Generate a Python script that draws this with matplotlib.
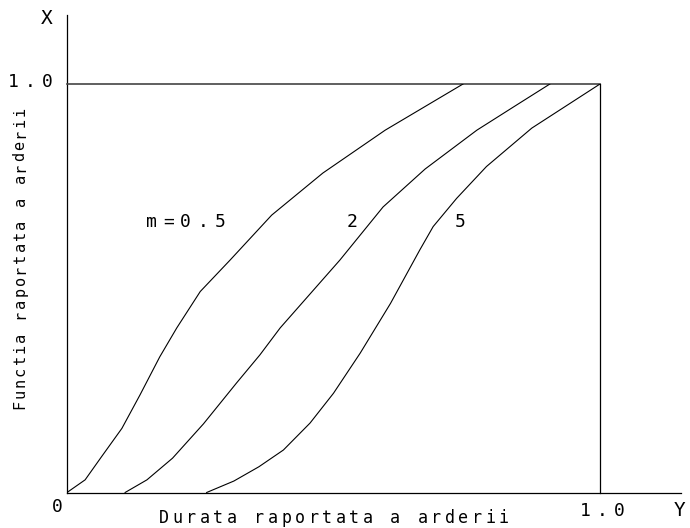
import matplotlib
matplotlib.use("Agg")
import matplotlib.pyplot as plt
import matplotlib.transforms as mtransforms

# curbe: durata raportata (x) -> functia raportata (y)
x_m05 = [0.0, 0.034, 0.065, 0.103, 0.137, 0.174, 0.206, 0.250, 0.306, 0.384, 0.480, 0.597, 0.743]
y_m05 = [0.0, 0.031, 0.088, 0.157, 0.239, 0.332, 0.403, 0.492, 0.569, 0.679, 0.782, 0.887, 1.0]

x_m2 = [0.109, 0.150, 0.198, 0.256, 0.318, 0.362, 0.400, 0.512, 0.593, 0.672, 0.769, 0.844, 0.906]
y_m2 = [0.0, 0.031, 0.084, 0.168, 0.268, 0.337, 0.403, 0.569, 0.699, 0.792, 0.887, 0.949, 1.0]

x_m5 = [0.262, 0.313, 0.360, 0.406, 0.456, 0.500, 0.550, 0.607, 0.662, 0.687, 0.731, 0.787, 0.872, 1.0]
y_m5 = [0.0, 0.028, 0.063, 0.104, 0.170, 0.243, 0.341, 0.463, 0.594, 0.651, 0.720, 0.798, 0.892, 1.0]

curve_labels = ["m=0.5", "2", "5"]
label_x = [0.159, 0.535, 0.737]
label_y = 0.662

W, H = 690, 528
fig = plt.figure(figsize=(W / 100, H / 100), dpi=100)
# originea la (67, 492.5) px, 1.0 la (600, 84) px
ax = fig.add_axes([67 / W, (H - 492.5) / H, 533 / W, 408.5 / H])
ax.set_xlim(0, 1)
ax.set_ylim(0, 1)
ax.axis("off")

FONT = "DejaVu Sans Mono"
lw = 0.9


def spaced_text(x, y, s, step, transform, size=12, vertical=False):
    # scrie caracterele la pas fix (in pixeli), centrat pe (x, y)
    start = -(len(s) - 1) * step / 2
    for i, ch in enumerate(s):
        d = start + i * step
        ox, oy = (0, d) if vertical else (d, 0)
        tr = mtransforms.offset_copy(transform, fig=fig, x=ox, y=oy, units="dots")
        fig.text(x, y, ch, transform=tr, ha="center", va="center",
                 rotation=90 if vertical else 0, fontsize=size, family=FONT,
                 color="black")


# axe si cadru
ax.plot([0, 0], [0, 1.169], color="black", lw=lw, clip_on=False)
ax.plot([0, 1.152], [0, 0], color="black", lw=lw, clip_on=False)
ax.plot([0, 1], [1, 1], color="#444444", lw=1.2, clip_on=False)
ax.plot([1, 1], [0, 1], color="black", lw=lw, clip_on=False)

for xs, ys in [(x_m05, y_m05), (x_m2, y_m2), (x_m5, y_m5)]:
    ax.plot(xs, ys, color="black", lw=0.8)

for lab, lx in zip(curve_labels, label_x):
    n = len(lab)
    # primul caracter la lx
    tr = mtransforms.offset_copy(ax.transData, fig=fig, x=(n - 1) * 17 / 2, y=0, units="dots")
    spaced_text(lx, label_y, lab, 17, tr, size=13)

def fig_px(px, py):
    return px / W, 1 - py / H

# etichete de gradatie
spaced_text(*fig_px(30, 82), "1.0", 17, fig.transFigure, size=13)
spaced_text(*fig_px(602, 511), "1.0", 17, fig.transFigure, size=13)
spaced_text(*fig_px(57, 507), "0", 17, fig.transFigure, size=13)
spaced_text(*fig_px(47, 19), "X", 17, fig.transFigure, size=14)
spaced_text(*fig_px(680, 511), "Y", 17, fig.transFigure, size=14)

# titlurile axelor
spaced_text(*fig_px(334, 518), "Durata raportata a arderii", 13.6, fig.transFigure, size=12)
spaced_text(*fig_px(20, 258), "Functia raportata a arderii", 11.3, fig.transFigure,
            size=11, vertical=True)

fig.savefig("out.png", dpi=100, facecolor="white")
